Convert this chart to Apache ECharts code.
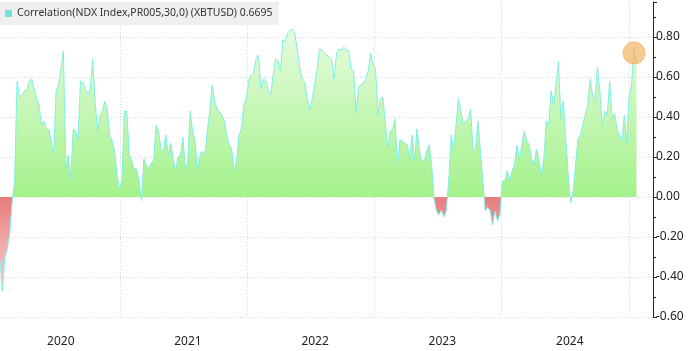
<!DOCTYPE html>
<html>
<head>
<meta charset="utf-8">
<script src="https://cdn.jsdelivr.net/npm/echarts@6/dist/echarts.min.js"></script>
<style>html,body{margin:0;padding:0;background:#fff;}#c{width:700px;height:351px;}</style>
</head>
<body>
<div id="c"></div>
<script>
// ---- data (weekly samples) ----
const seriesName = 'Correlation(NDX Index,PR005,30,0) (XBTUSD)';
const startDate = '2020-01-22';
const stepDays = 7;
const values = [
 -0.32,-0.47,-0.30,-0.26,-0.18,-0.02,0.08,0.58,0.50,0.51,
 0.53,0.535,0.58,0.59,0.54,0.49,0.46,0.36,0.38,0.34,
 0.34,0.28,0.21,0.53,0.56,0.64,0.73,0.14,0.21,0.09,
 0.34,0.33,0.285,0.58,0.57,0.54,0.51,0.54,0.69,0.48,
 0.33,0.41,0.43,0.48,0.435,0.31,0.28,0.23,0.11,0.04,
 0.08,0.43,0.43,0.21,0.18,0.14,0.14,0.08,-0.02,0.19,
 0.16,0.14,0.17,0.18,0.36,0.33,0.24,0.23,0.31,0.21,
 0.27,0.19,0.13,0.20,0.21,0.30,0.14,0.18,0.43,0.33,
 0.28,0.13,0.21,0.23,0.21,0.33,0.43,0.56,0.48,0.44,
 0.43,0.41,0.38,0.31,0.26,0.24,0.13,0.18,0.31,0.34,
 0.46,0.49,0.58,0.61,0.62,0.69,0.71,0.54,0.59,0.58,
 0.535,0.51,0.61,0.69,0.68,0.63,0.785,0.78,0.82,0.835,
 0.84,0.81,0.73,0.64,0.59,0.57,0.49,0.435,0.49,0.56,
 0.635,0.74,0.735,0.72,0.71,0.70,0.69,0.59,0.72,0.74,
 0.735,0.75,0.735,0.73,0.64,0.63,0.42,0.55,0.56,0.57,
 0.59,0.63,0.72,0.66,0.64,0.41,0.49,0.50,0.38,0.24,
 0.33,0.34,0.39,0.16,0.285,0.28,0.27,0.26,0.19,0.31,
 0.18,0.34,0.23,0.18,0.18,0.23,0.26,0.16,-0.01,-0.07,
 -0.09,-0.065,-0.10,-0.07,0.08,0.31,0.24,0.36,0.49,0.43,
 0.36,0.38,0.39,0.44,0.23,0.24,0.38,0.23,0.08,-0.07,
 -0.05,-0.07,-0.14,-0.07,-0.12,-0.09,0.08,0.08,0.13,0.08,
 0.13,0.16,0.26,0.19,0.26,0.33,0.28,0.26,0.19,0.16,
 0.24,0.18,0.11,0.19,0.38,0.36,0.53,0.46,0.56,0.68,
 0.39,0.48,0.29,0.11,-0.03,0.03,0.16,0.29,0.31,0.36,
 0.41,0.46,0.59,0.51,0.48,0.65,0.53,0.36,0.43,0.41,
 0.58,0.39,0.42,0.34,0.31,0.28,0.41,0.27,0.51,0.56,
 0.75,0.6695
];
const yearBoundaries = ['2021-01-01','2022-01-01','2023-01-01','2024-01-01','2025-01-01'];
const yearLabels = ['2020','2021','2022','2023','2024'];
const yTicks = [-0.6,-0.4,-0.2,0,0.2,0.4,0.6,0.8];

// ---- build ----
const DAY = 86400000;
const t0 = Date.parse(startDate + 'T12:00:00Z');
const points = values.map((v, i) => [t0 + i * stepDays * DAY, v]);
const boundaryTs = yearBoundaries.map(d => Date.parse(d + 'T00:00:00Z'));
const labelTs = yearLabels.map(y => Date.UTC(+y, 6, 15));
const vMax = Math.max(...values), vMin = Math.min(...values);
const zeroOff = vMax / (vMax - vMin);
let peakIdx = values.length - 10;
for (let i = values.length - 10; i < values.length; i++) if (values[i] > values[peakIdx]) peakIdx = i;
const lastVal = values[values.length - 1];

const chart = echarts.init(document.getElementById('c'), null, {renderer: 'canvas'});
chart.setOption({
  animation: false,
  backgroundColor: '#ffffff',
  grid: {left: 0, right: 47, top: 2, bottom: 34, containLabel: false},
  legend: {
    left: 0, top: 2,
    data: [seriesName],
    icon: 'rect', itemWidth: 7, itemHeight: 7,
    backgroundColor: '#efefef',
    padding: [6, 6, 6, 5],
    itemGap: 4,
    textStyle: {fontFamily: 'Noto Sans', fontSize: 10.5, color: '#333'},
    formatter: name => name + ' ' + lastVal.toFixed(4)
  },
  xAxis: {
    type: 'value',
    min: t0,
    max: Date.parse('2025-03-10T22:00:00Z'),
    axisLine: {show: false},
    axisTick: {show: false, customValues: boundaryTs},
    splitLine: {show: true, lineStyle: {color: '#d6d6d6', type: [1, 2], width: 1}},
    axisLabel: {
      customValues: labelTs,
      formatter: v => String(new Date(v).getUTCFullYear()),
      fontFamily: 'Noto Sans', fontSize: 12, color: '#222', margin: 19
    }
  },
  yAxis: {
    type: 'value',
    position: 'right',
    min: -0.6, max: 0.975, interval: 0.2,
    axisLine: {show: true, onZero: false, lineStyle: {color: '#222', width: 1}},
    axisTick: {show: true, length: 4, lineStyle: {color: '#222'}},
    minorTick: {show: true, splitNumber: 2, length: 3, lineStyle: {color: '#222'}},
    axisLabel: {
      showMaxLabel: false,
      formatter: v => v.toFixed(2),
      fontFamily: 'Noto Sans', fontSize: 12, color: '#222', margin: 3
    },
    splitLine: {show: true, showMaxLine: false, lineStyle: {color: '#d6d6d6', type: [1, 2], width: 1}}
  },
  series: [{
    name: seriesName,
    type: 'line',
    data: points,
    showSymbol: false,
    symbol: 'none',
    itemStyle: {color: '#6fe3de'},
    lineStyle: {color: '#7eefe6', width: 1},
    areaStyle: {
      opacity: 1,
      color: new echarts.graphic.LinearGradient(0, 0, 0, 1, [
        {offset: 0, color: '#e6fbde'},
        {offset: zeroOff, color: '#a4f28b'},
        {offset: zeroOff, color: '#e87c7c'},
        {offset: 1, color: '#f8d6d6'}
      ])
    },
    markPoint: {
      silent: true,
      data: [{coord: points[peakIdx]}],
      symbol: 'circle',
      symbolSize: 22,
      symbolOffset: [0, 6],
      label: {show: false},
      itemStyle: {color: 'rgba(245,180,100,0.7)', borderColor: '#e49a3c', borderType: 'dotted', borderWidth: 1}
    }
  }]
});
</script>
</body>
</html>
